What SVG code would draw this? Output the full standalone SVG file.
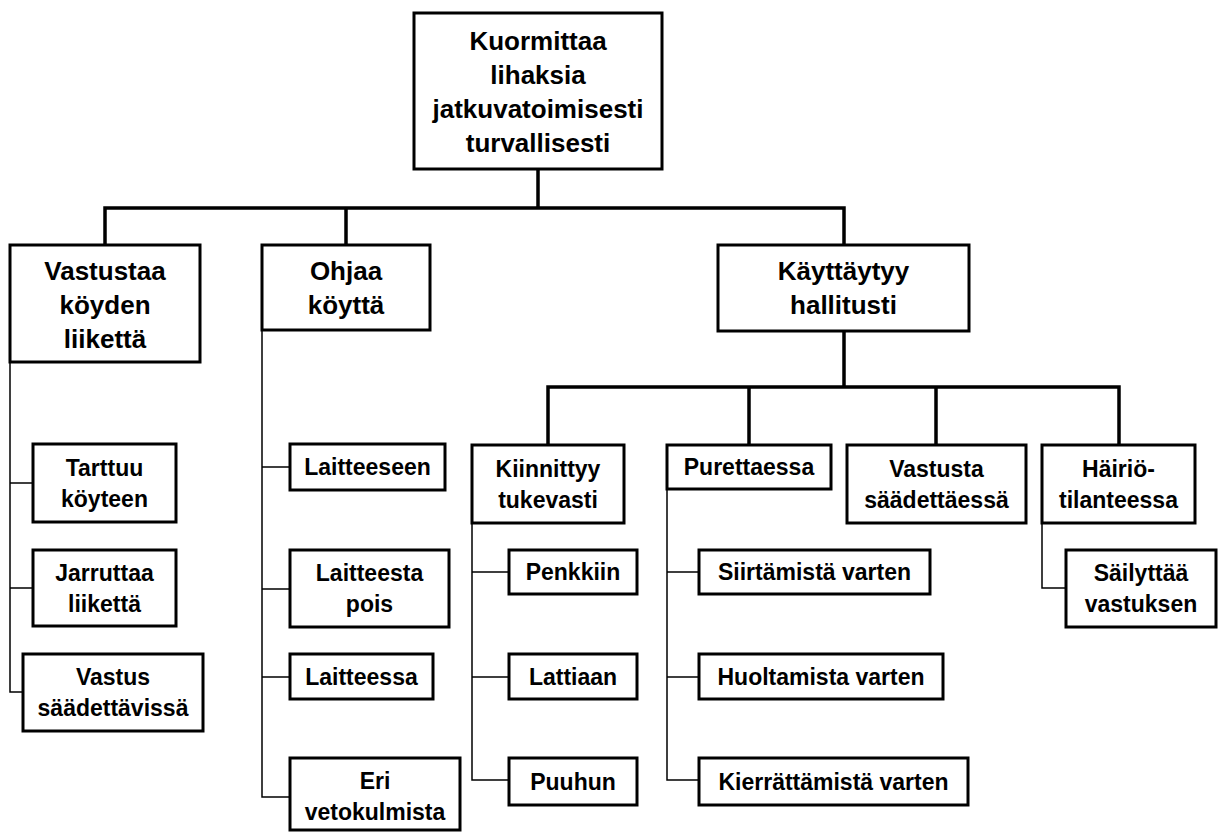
<svg xmlns="http://www.w3.org/2000/svg" width="1220" height="832" viewBox="0 0 1220 832">
  <style>
    .box { fill: #ffffff; stroke: #000000; stroke-width: 3; }
    .bus { fill: none; stroke: #000000; stroke-width: 3.5; }
    .stub { fill: none; stroke: #000000; stroke-width: 1.5; }
    text { font-family: "Liberation Sans", Arial, sans-serif; font-weight: bold; fill: #000000; text-anchor: middle; }
    .big { font-size: 26px; }
    .small { font-size: 23px; }
  </style>
  <rect x="0" y="0" width="1220" height="832" fill="#ffffff"/>

  <!-- connectors -->
  <g id="connectors">
    <!-- main tree -->
    <path class="bus" d="M538 169 V208 M105 245 V208 H844 V245 M346 208 V245"/>
    <path class="bus" d="M844 331 V387 M548 445 V387 H1119 V445 M749 387 V445 M936 387 V445"/>
    <!-- side branches -->
    <path class="stub" d="M10 362 V692 H23 M10 483 H33 M10 588 H33"/>
    <path class="stub" d="M262 330 V797 H290 M262 467 H290 M262 589 H290 M262 677 H290"/>
    <path class="stub" d="M472 523 V780 H509 M472 572 H509 M472 677 H509"/>
    <path class="stub" d="M667 489 V780 H699 M667 572 H699 M667 677 H699"/>
    <path class="stub" d="M1042 523 V588 H1066"/>
  </g>

  <!-- root -->
  <g id="root">
    <rect class="box" x="414" y="13" width="248" height="156"/>
    <text class="big" x="538" y="50">Kuormittaa</text>
    <text class="big" x="538" y="84">lihaksia</text>
    <text class="big" x="538" y="118">jatkuvatoimisesti</text>
    <text class="big" x="538" y="152">turvallisesti</text>
  </g>

  <!-- first level -->
  <g id="vastustaa">
    <rect class="box" x="10" y="245" width="190" height="117"/>
    <text class="big" x="105" y="280">Vastustaa</text>
    <text class="big" x="105" y="314">köyden</text>
    <text class="big" x="105" y="348">liikettä</text>
  </g>
  <g id="ohjaa">
    <rect class="box" x="262" y="245" width="168" height="85"/>
    <text class="big" x="346" y="280">Ohjaa</text>
    <text class="big" x="346" y="314">köyttä</text>
  </g>
  <g id="kayttaytyy">
    <rect class="box" x="718" y="245" width="251" height="86"/>
    <text class="big" x="843.5" y="280">Käyttäytyy</text>
    <text class="big" x="843.5" y="314">hallitusti</text>
  </g>

  <!-- children of Vastustaa -->
  <g id="tarttuu">
    <rect class="box" x="33" y="444" width="143" height="78"/>
    <text class="small" x="104.5" y="476">Tarttuu</text>
    <text class="small" x="104.5" y="507">köyteen</text>
  </g>
  <g id="jarruttaa">
    <rect class="box" x="33" y="550" width="143" height="76"/>
    <text class="small" x="104.5" y="581">Jarruttaa</text>
    <text class="small" x="104.5" y="612">liikettä</text>
  </g>
  <g id="vastus">
    <rect class="box" x="23" y="654" width="180" height="77"/>
    <text class="small" x="113" y="685">Vastus</text>
    <text class="small" x="113" y="716">säädettävissä</text>
  </g>

  <!-- children of Ohjaa -->
  <g id="laitteeseen">
    <rect class="box" x="290" y="444" width="155" height="46"/>
    <text class="small" x="367.5" y="475">Laitteeseen</text>
  </g>
  <g id="laitteesta">
    <rect class="box" x="290" y="550" width="159" height="77"/>
    <text class="small" x="369.5" y="581">Laitteesta</text>
    <text class="small" x="369.5" y="612">pois</text>
  </g>
  <g id="laitteessa">
    <rect class="box" x="290" y="654" width="143" height="45"/>
    <text class="small" x="361.5" y="685">Laitteessa</text>
  </g>
  <g id="eri">
    <rect class="box" x="290" y="758" width="170" height="72"/>
    <text class="small" x="375" y="789">Eri</text>
    <text class="small" x="375" y="820">vetokulmista</text>
  </g>

  <!-- children of Käyttäytyy -->
  <g id="kiinnittyy">
    <rect class="box" x="472" y="445" width="152" height="78"/>
    <text class="small" x="548" y="477">Kiinnittyy</text>
    <text class="small" x="548" y="508">tukevasti</text>
  </g>
  <g id="purettaessa">
    <rect class="box" x="667" y="445" width="164" height="44"/>
    <text class="small" x="749" y="475">Purettaessa</text>
  </g>
  <g id="vastusta">
    <rect class="box" x="847" y="445" width="179" height="78"/>
    <text class="small" x="936.5" y="477">Vastusta</text>
    <text class="small" x="936.5" y="508">säädettäessä</text>
  </g>
  <g id="hairio">
    <rect class="box" x="1042" y="445" width="153" height="78"/>
    <text class="small" x="1118.5" y="477">Häiriö-</text>
    <text class="small" x="1118.5" y="508">tilanteessa</text>
  </g>

  <!-- children of Kiinnittyy -->
  <g id="penkkiin">
    <rect class="box" x="509" y="550" width="128" height="44"/>
    <text class="small" x="573" y="580">Penkkiin</text>
  </g>
  <g id="lattiaan">
    <rect class="box" x="509" y="654" width="128" height="45"/>
    <text class="small" x="573" y="685">Lattiaan</text>
  </g>
  <g id="puuhun">
    <rect class="box" x="509" y="758" width="128" height="47"/>
    <text class="small" x="573" y="790">Puuhun</text>
  </g>

  <!-- children of Purettaessa -->
  <g id="siirtamista">
    <rect class="box" x="699" y="550" width="231" height="44"/>
    <text class="small" x="814.5" y="580">Siirtämistä varten</text>
  </g>
  <g id="huoltamista">
    <rect class="box" x="699" y="654" width="244" height="45"/>
    <text class="small" x="821" y="685">Huoltamista varten</text>
  </g>
  <g id="kierrattamista">
    <rect class="box" x="699" y="758" width="269" height="47"/>
    <text class="small" x="833.5" y="790">Kierrättämistä varten</text>
  </g>

  <!-- child of Häiriötilanteessa -->
  <g id="sailyttaa">
    <rect class="box" x="1066" y="550" width="150" height="77"/>
    <text class="small" x="1141" y="581">Säilyttää</text>
    <text class="small" x="1141" y="612">vastuksen</text>
  </g>
</svg>
